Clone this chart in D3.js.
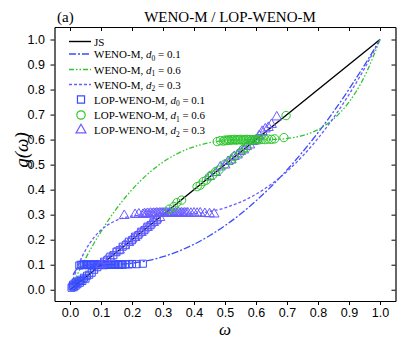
<!DOCTYPE html>
<html>
<head>
<meta charset="utf-8">
<script src="https://cdn.jsdelivr.net/npm/d3@7"></script>
<style>
  body { margin: 0; background: #fff; }
  svg { display: block; }
</style>
</head>
<body>
<div id="chart"></div>
<script>
// mapping curves g(w)
const omega = [0.01, 0.02, 0.03, 0.05, 0.075, 0.1, 0.15, 0.2, 0.25, 0.3, 0.35, 0.4, 0.45, 0.5,
  0.55, 0.6, 0.65, 0.7, 0.75, 0.8, 0.85, 0.9, 0.95, 1.0];
const wenoD0 = [0.0595, 0.0803, 0.0899, 0.0975, 0.0998, 0.1, 0.101, 0.1059, 0.1161, 0.132, 0.1539,
  0.1818, 0.2159, 0.2561, 0.3025, 0.3551, 0.4139, 0.4789, 0.5502, 0.6277, 0.7114, 0.8014, 0.8976, 1.0];
const wenoD1 = [0.0263, 0.0519, 0.0769, 0.1246, 0.1806, 0.2324, 0.3239, 0.4, 0.4617, 0.51, 0.5461,
  0.5714, 0.5875, 0.5962, 0.5995, 0.6, 0.6005, 0.6045, 0.6161, 0.64, 0.6822, 0.75, 0.8522, 1.0];
const wenoD2 = [0.0405, 0.076, 0.107, 0.158, 0.2051, 0.2385, 0.2775, 0.2941, 0.2993, 0.3, 0.3005,
  0.304, 0.3125, 0.3276, 0.3504, 0.3818, 0.4225, 0.473, 0.5337, 0.6049, 0.6869, 0.78, 0.8843, 1.0];
const jsLine = [[0, 0], [1, 1]];

// LOP-WENO-M scatter points [w, g]
const lopD0 = [
  [0.005, 0.008], [0.008, 0.014], [0.01, 0.02], [0.012, 0.01], [0.015, 0.025], [0.018, 0.016],
  [0.02, 0.03], [0.024, 0.022], [0.028, 0.034], [0.032, 0.028], [0.036, 0.04], [0.04, 0.035],
  [0.045, 0.048], [0.05, 0.044], [0.055, 0.056], [0.062, 0.06], [0.07, 0.068], [0.078, 0.08], [0.088, 0.09],
  [0.03, 0.097], [0.035, 0.1], [0.04, 0.098], [0.045, 0.102], [0.05, 0.099], [0.055, 0.101],
  [0.06, 0.098], [0.065, 0.102], [0.07, 0.1], [0.075, 0.099], [0.08, 0.102], [0.085, 0.098],
  [0.09, 0.101], [0.095, 0.099], [0.1, 0.102], [0.105, 0.1], [0.11, 0.098], [0.115, 0.101],
  [0.12, 0.1], [0.125, 0.102], [0.13, 0.099], [0.135, 0.101], [0.14, 0.1], [0.145, 0.102],
  [0.15, 0.1], [0.155, 0.101], [0.16, 0.099], [0.165, 0.102], [0.17, 0.1], [0.18, 0.102],
  [0.19, 0.101], [0.2, 0.103], [0.215, 0.102], [0.235, 0.104],
  [0.11, 0.112], [0.12, 0.118], [0.13, 0.132], [0.14, 0.138], [0.15, 0.152], [0.16, 0.158],
  [0.17, 0.172], [0.18, 0.178], [0.19, 0.192], [0.2, 0.198], [0.21, 0.212], [0.22, 0.218],
  [0.23, 0.232], [0.24, 0.238], [0.25, 0.252], [0.26, 0.258], [0.27, 0.272], [0.28, 0.278]
];
const lopD1 = [
  [0.32, 0.322], [0.335, 0.333], [0.345, 0.348], [0.36, 0.358], [0.41, 0.412], [0.42, 0.418],
  [0.43, 0.432], [0.44, 0.438], [0.45, 0.452], [0.46, 0.458], [0.47, 0.472], [0.48, 0.478],
  [0.5, 0.502], [0.52, 0.518], [0.53, 0.532], [0.55, 0.548], [0.56, 0.562], [0.57, 0.568], [0.697, 0.696],
  [0.475, 0.592], [0.485, 0.596], [0.495, 0.594], [0.5, 0.598], [0.505, 0.596], [0.51, 0.599],
  [0.515, 0.597], [0.52, 0.6], [0.525, 0.598], [0.53, 0.601], [0.535, 0.598], [0.54, 0.6],
  [0.545, 0.599], [0.55, 0.601], [0.555, 0.598], [0.56, 0.6], [0.565, 0.599], [0.57, 0.601],
  [0.575, 0.599], [0.58, 0.6], [0.585, 0.598], [0.59, 0.6], [0.595, 0.599], [0.6, 0.601],
  [0.605, 0.6], [0.61, 0.599], [0.62, 0.601], [0.63, 0.6], [0.64, 0.602], [0.65, 0.601],
  [0.66, 0.603], [0.69, 0.608]
];
const lopD2 = [
  [0.1, 0.1], [0.115, 0.117], [0.13, 0.128], [0.145, 0.147], [0.16, 0.158], [0.175, 0.177],
  [0.19, 0.188], [0.2, 0.202], [0.21, 0.208], [0.22, 0.222], [0.23, 0.228], [0.24, 0.242],
  [0.25, 0.248], [0.26, 0.262], [0.27, 0.268], [0.28, 0.282], [0.29, 0.288],
  [0.175, 0.296], [0.21, 0.3], [0.222, 0.302], [0.235, 0.3], [0.24, 0.303], [0.245, 0.301],
  [0.25, 0.304], [0.255, 0.302], [0.26, 0.305], [0.265, 0.303], [0.27, 0.305], [0.275, 0.304],
  [0.28, 0.306], [0.285, 0.304], [0.29, 0.306], [0.295, 0.305], [0.3, 0.306], [0.305, 0.305],
  [0.31, 0.307], [0.315, 0.305], [0.32, 0.306], [0.325, 0.305], [0.33, 0.307], [0.335, 0.305],
  [0.34, 0.306], [0.345, 0.305], [0.35, 0.307], [0.355, 0.305], [0.36, 0.306], [0.365, 0.305],
  [0.37, 0.306], [0.375, 0.305], [0.38, 0.306], [0.39, 0.305], [0.4, 0.306], [0.41, 0.305],
  [0.42, 0.306], [0.435, 0.304], [0.45, 0.303], [0.465, 0.302],
  [0.45, 0.452], [0.47, 0.468], [0.485, 0.49], [0.5, 0.498], [0.51, 0.512], [0.52, 0.518],
  [0.53, 0.532], [0.54, 0.538], [0.55, 0.552], [0.56, 0.558], [0.57, 0.572], [0.58, 0.578],
  [0.59, 0.592], [0.6, 0.598], [0.61, 0.615], [0.62, 0.632], [0.63, 0.642], [0.64, 0.648],
  [0.65, 0.66], [0.667, 0.69]
];
const xTicks = [0, 0.1, 0.2, 0.3, 0.4, 0.5, 0.6, 0.7, 0.8, 0.9, 1.0];
const yTicks = [0, 0.1, 0.2, 0.3, 0.4, 0.5, 0.6, 0.7, 0.8, 0.9, 1.0];

const colD0 = "#3a4cff", colD1 = "#2ec52e", colD2 = "#6a5cff";
const w = 397, h = 341;
const serif = "'Liberation Serif', 'DejaVu Serif', serif";
const sans = "'Liberation Sans', Arial, sans-serif";

var svg = d3.select("#chart").append("svg")
  .attr("width", w).attr("height", h)
  .attr("xmlns", "http://www.w3.org/2000/svg");

var x = d3.scaleLinear().domain([-0.05, 1.05]).range([54.5, 395.5]);
var y = d3.scaleLinear().domain([-0.045, 1.05]).range([301, 27]);

// axes
var gx = svg.append("g").attr("transform", "translate(0,301)")
  .call(d3.axisBottom(x).tickValues(xTicks).tickFormat(d3.format(".1f")).tickSize(4).tickSizeOuter(0));
var gy = svg.append("g").attr("transform", "translate(54.5,0)")
  .call(d3.axisLeft(y).tickValues(yTicks).tickFormat(d3.format(".1f")).tickSize(4).tickSizeOuter(0));
svg.append("g").attr("transform", "translate(0,27)")
  .call(d3.axisTop(x).tickValues(xTicks).tickFormat("").tickSize(-4).tickSizeOuter(0));
svg.append("g").attr("transform", "translate(395.5,0)")
  .call(d3.axisRight(y).tickValues(yTicks).tickFormat("").tickSize(-4).tickSizeOuter(0));
svg.selectAll(".domain").attr("stroke", "#000").attr("stroke-width", 1.2);
svg.selectAll(".tick line").attr("stroke", "#000");
gx.selectAll("text").attr("font-family", sans).attr("font-size", 12.5).attr("fill", "#000");
gy.selectAll("text").attr("font-family", sans).attr("font-size", 12.5).attr("fill", "#000").attr("dx", "-0.2em");

// curves
var line = d3.line()
  .curve(d3.curveMonotoneX)
  .x(function(d) { return x(d[0]); })
  .y(function(d) { return y(d[1]); });
var zipW = function(vals) { return omega.map(function(o, i) { return [o, vals[i]]; }); };

var curves = [
  { data: jsLine, color: "#000", dash: null, width: 1.4 },
  { data: zipW(wenoD0), color: colD0, dash: "7,2,2,2", width: 1.3 },
  { data: zipW(wenoD1), color: colD1, dash: "5,2,1.5,2,1.5,2", width: 1.3 },
  { data: zipW(wenoD2), color: colD2, dash: "3,2", width: 1.3 }
];
curves.forEach(function(c) {
  svg.append("path")
    .attr("d", line(c.data))
    .attr("fill", "none")
    .attr("stroke", c.color)
    .attr("stroke-width", c.width)
    .attr("stroke-dasharray", c.dash);
});

// markers
var square = d3.symbol().type(d3.symbolSquare).size(50);
var circle = d3.symbol().type(d3.symbolCircle).size(55);
var tri = d3.symbol().type(d3.symbolTriangle).size(42);
var marks = [
  { data: lopD0, sym: square, color: colD0 },
  { data: lopD2, sym: tri, color: colD2 },
  { data: lopD1, sym: circle, color: colD1 }
];
marks.forEach(function(m) {
  svg.append("g").selectAll("path").data(m.data).join("path")
    .attr("d", m.sym)
    .attr("transform", function(d) { return "translate(" + x(d[0]) + "," + y(d[1]) + ")"; })
    .attr("fill", "none")
    .attr("stroke", m.color)
    .attr("stroke-width", 1);
});

// legend
var legend = [
  { label: "JS", sub: null, val: null, color: "#000", dash: null, y: 41.5 },
  { label: "WENO-M, ", sub: "0", val: " = 0.1", color: colD0, dash: "7,2,2,2", y: 54 },
  { label: "WENO-M, ", sub: "1", val: " = 0.6", color: colD1, dash: "5,2,1.5,2,1.5,2", y: 69.5 },
  { label: "WENO-M, ", sub: "2", val: " = 0.3", color: colD2, dash: "3,2", y: 84.5 },
  { label: "LOP-WENO-M, ", sub: "0", val: " = 0.1", color: colD0, sym: square, y: 99.5 },
  { label: "LOP-WENO-M, ", sub: "1", val: " = 0.6", color: colD1, sym: circle, y: 115 },
  { label: "LOP-WENO-M, ", sub: "2", val: " = 0.3", color: colD2, sym: tri, y: 130 }
];
legend.forEach(function(l) {
  if (l.sym) {
    svg.append("path").attr("d", l.sym)
      .attr("transform", "translate(81," + l.y + ")")
      .attr("fill", "none").attr("stroke", l.color).attr("stroke-width", 1.2);
  } else {
    svg.append("line").attr("x1", 69).attr("x2", 91).attr("y1", l.y).attr("y2", l.y)
      .attr("stroke", l.color).attr("stroke-width", 1.4).attr("stroke-dasharray", l.dash);
  }
  var t = svg.append("text").attr("x", 94).attr("y", l.y + 4)
    .attr("font-family", serif).attr("font-size", 11).attr("fill", "#000");
  t.append("tspan").text(l.label);
  if (l.sub) {
    t.append("tspan").attr("font-style", "italic").text("d");
    t.append("tspan").attr("font-size", 7.5).attr("dy", 2.5).text(l.sub);
    t.append("tspan").attr("dy", -2.5).text(l.val);
  }
});

// titles
svg.append("text").attr("x", 57).attr("y", 22)
  .attr("font-family", serif).attr("font-size", 15).text("(a)");
svg.append("text").attr("x", 230).attr("y", 22).attr("text-anchor", "middle")
  .attr("font-family", serif).attr("font-size", 15).text("WENO-M / LOP-WENO-M");
svg.append("text").attr("x", 225).attr("y", 335).attr("text-anchor", "middle")
  .attr("font-family", serif).attr("font-style", "italic").attr("font-size", 17).text("ω");
svg.append("text").attr("transform", "translate(28,150) rotate(-90)").attr("text-anchor", "middle")
  .attr("font-family", serif).attr("font-style", "italic").attr("font-size", 19).text("g(ω)");
</script>
</body>
</html>
